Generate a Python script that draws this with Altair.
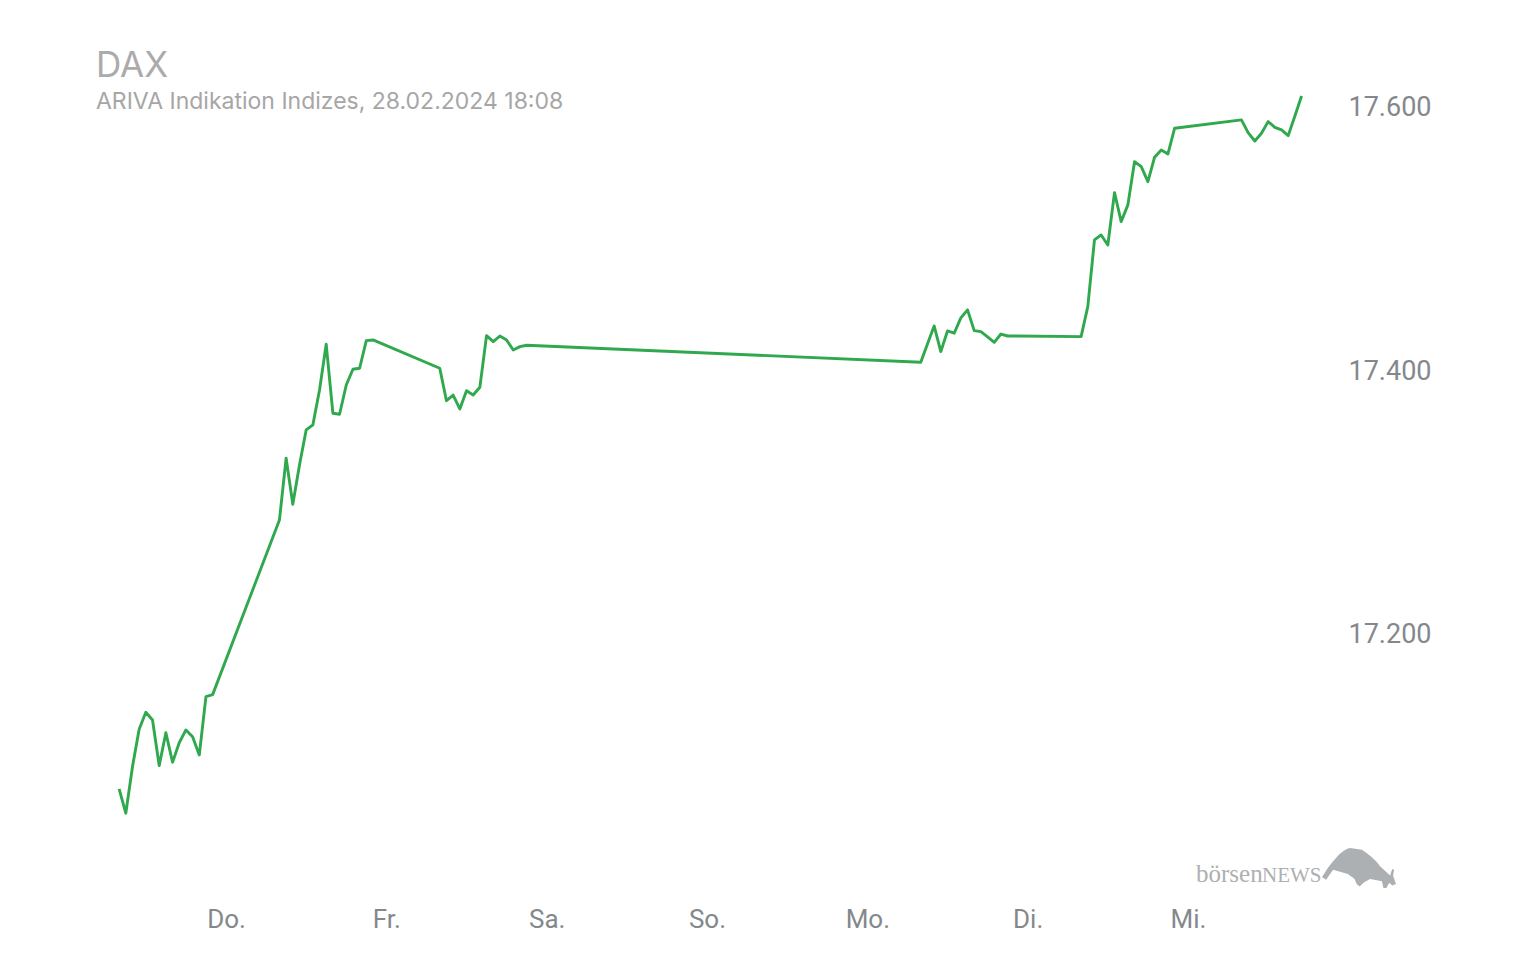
import json
import altair as alt
import pandas as pd

# x axis: hours since Wed 21.02.2024 00:00, one tick per day at midnight
day_names = ["Do.", "Fr.", "Sa.", "So.", "Mo.", "Di.", "Mi."]
day_ticks = [24, 48, 72, 96, 120, 144, 168]
y_ticks = [17200, 17400, 17600]

# hourly DAX indications, starting 08:00 on each trading day
day_offsets = [0, 24, 48, 120, 144, 168]
wed_21 = [17081.6, 17063.2, 17098.5, 17126.9, 17139.8, 17134.0, 17099.3, 17124.3,
          17101.9, 17116.7, 17126.4, 17121.3, 17107.4, 17151.7, 17153.2]
thu_22 = [17285.8, 17332.6, 17297.7, 17327.5, 17354.1, 17357.9, 17384.4, 17419.1,
          17366.8, 17366.0, 17388.2, 17400.2, 17400.9, 17421.9, 17422.4]
fri_23 = [17400.9, 17376.3, 17380.6, 17370.0, 17383.9, 17380.6, 17386.5, 17425.7,
          17421.1, 17425.4, 17422.4, 17414.8, 17417.3, 17418.4]
mon_26 = [17405.5, 17419.4, 17433.0, 17413.5, 17429.2, 17427.5, 17439.1, 17445.2,
          17429.5, 17428.7, 17424.7, 17420.6, 17426.9, 17425.4, 17425.4]
tue_27 = [17424.9, 17447.7, 17498.3, 17502.1, 17494.5, 17534.2, 17512.2, 17524.9,
          17557.7, 17553.9, 17542.5, 17561.1, 17566.6, 17563.6, 17583.1]
wed_28 = [17589.4, 17579.7, 17573.4, 17579.3, 17588.1, 17583.8, 17581.8, 17577.5,
          17592.4, 17607.6]
first_hour = 8

rows = []
for off, vals in zip(day_offsets, [wed_21, thu_22, fri_23, mon_26, tue_27, wed_28]):
    for i, v in enumerate(vals):
        rows.append({"h": off + first_hour + i, "kurs": v})
df = pd.DataFrame(rows)

GREEN = "#30a84d"
LABEL = "#84888c"

x_scale = alt.Scale(domain=[4.54, 187.76], nice=False, zero=False)
y_scale = alt.Scale(domain=[17012.5, 17619.7], nice=False, zero=False)

label_expr = json.dumps(day_names) + "[datum.value / 24 - 1]"

line = alt.Chart(df).mark_line(color=GREEN, strokeWidth=2.9, strokeJoin="round").encode(
    x=alt.X("h:Q", scale=x_scale,
            axis=alt.Axis(values=day_ticks, labelExpr=label_expr, title=None,
                          domain=False, ticks=False, grid=False,
                          labelFontSize=26, labelColor=LABEL, labelFont="Roboto",
                          labelPadding=26, labelAlign="center")),
    y=alt.Y("kurs:Q", scale=y_scale,
            axis=alt.Axis(orient="right", values=y_ticks, title=None,
                          labelExpr="replace(format(datum.value, ',.0f'), ',', '.')",
                          domain=False, ticks=False, grid=False,
                          labelFontSize=27, labelColor=LABEL, labelFont="Roboto",
                          labelPadding=28, labelAlign="left", labelBaseline="middle",
                          labelOffset=2)),
)

one = pd.DataFrame({"a": [0]})
LOGO = "#adb0b3"
logo_a = alt.Chart(one).mark_text(text="börsen", font="Liberation Serif", fontSize=25,
                                  color=LOGO, align="left", baseline="alphabetic").encode(
    x=alt.value(1100), y=alt.value(802))
logo_b = alt.Chart(one).mark_text(text="NEWS", font="Liberation Serif", fontSize=21,
                                  color=LOGO, align="left", baseline="alphabetic").encode(
    x=alt.value(1166), y=alt.value(802))
bull_path = ("M -1 0.24 C -0.9 0.1 -0.85 0 -0.78 -0.08 C -0.6 -0.3 -0.45 -0.5 -0.24 -0.54 "
             "L 0.08 -0.49 C 0.3 -0.35 0.45 -0.2 0.57 -0.05 L 0.84 0.2 L 0.9 0.02 L 0.95 0.06 "
             "L 0.92 0.2 L 1 0.43 L 0.9 0.47 L 0.82 0.4 L 0.74 0.54 L 0.66 0.54 L 0.62 0.36 "
             "L 0.3 0.3 L 0.12 0.4 L 0.02 0.5 L -0.06 0.44 L -0.12 0.3 L -0.3 0.16 "
             "L -0.51 0.1 L -0.7 0.05 L -0.89 0.32 Z")
bull = alt.Chart(one).mark_point(shape=bull_path, filled=True, size=5476, color=LOGO,
                                 opacity=1, strokeWidth=0).encode(
    x=alt.value(1263), y=alt.value(788))

chart = alt.layer(line, logo_a, logo_b, bull).properties(
    width=1224, height=800,
    autosize=alt.AutoSizeParams(type="none"),
    padding={"left": 96, "top": 80, "right": 216, "bottom": 80},
    title=alt.TitleParams(
        text="DAX", subtitle="ARIVA Indikation Indizes, 28.02.2024 18:08",
        anchor="start", font="Inter", fontSize=35, fontWeight="normal", color="#ababab",
        subtitleFont="Inter", subtitleFontSize=23, subtitleColor="#a6a6a6",
        subtitlePadding=7, offset=-34),
).configure(background="white").configure_view(stroke="transparent", strokeWidth=0)

chart.save("out.html", embed_options={"renderer": "svg", "actions": False})
